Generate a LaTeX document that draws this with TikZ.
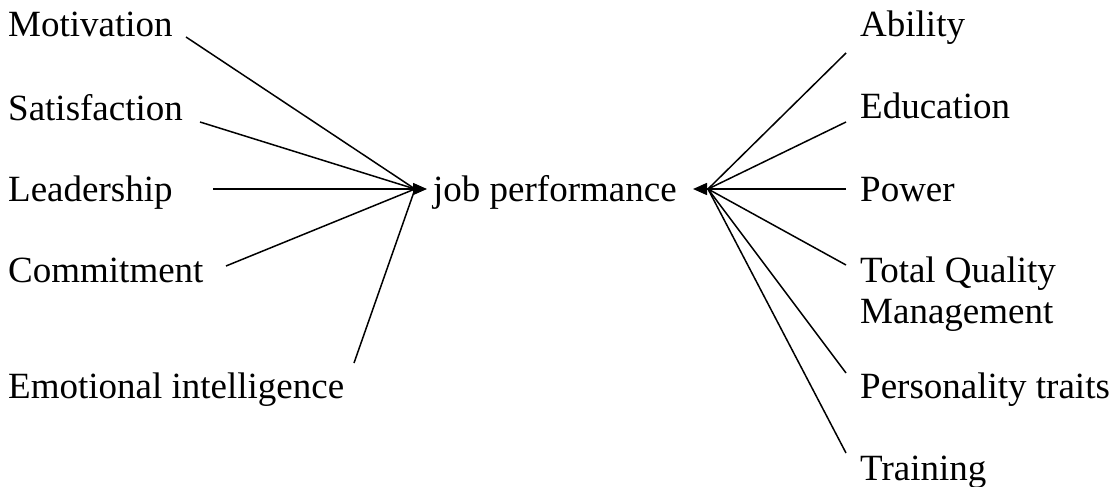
\documentclass[tikz,border=0pt]{standalone}
\usepackage{fontspec}
\setmainfont{Liberation Serif}
\usetikzlibrary{arrows.meta}
\begin{document}
\begin{tikzpicture}[x=1pt,y=-1pt,
  lbl/.style={inner sep=0pt, anchor=base west, font=\fontsize{37}{41}\selectfont},
  conn/.style={line width=1.5pt},
  arr/.style={conn,-{Triangle[length=14pt,width=12pt]}}]
\useasboundingbox (0,0) rectangle (1116,487);
% left labels
\node[lbl] (mot) at (8,37) {Motivation};
\node[lbl] (sat) at (8,120) {Satisfaction};
\node[lbl] (lead) at (8,201) {Leadership};
\node[lbl] (com) at (8,282) {Commitment};
\node[lbl] (emo) at (8,398) {Emotional intelligence};
% centre
\node[lbl] (jp) at (433,201) {job performance};
% right labels
\node[lbl] (abi) at (860,37) {Ability};
\node[lbl] (edu) at (860,118) {Education};
\node[lbl] (pow) at (860,201) {Power};
\node[lbl] (tqm) at (860,282) {Total Quality};
\node[lbl] (tqm2) at (860,323) {Management};
\node[lbl] (per) at (860,398) {Personality traits};
\node[lbl] (tra) at (860,480) {Training};
% connector end points
\coordinate (motS) at (186,37);
\coordinate (satS) at (200,122);
\coordinate (leadS) at (213,189);
\coordinate (comS) at (226,266);
\coordinate (emoS) at (354,363);
\coordinate (L) at (415,189);
\coordinate (Lt) at (427,189);
\coordinate (R) at (708,189);
\coordinate (Rt) at (693,189);
\coordinate (abiS) at (846,53);
\coordinate (eduS) at (846,122);
\coordinate (powS) at (846,189);
\coordinate (tqmS) at (846,265);
\coordinate (perS) at (846,373);
\coordinate (traS) at (846,453);
% left connectors
\draw[conn] (motS) -- (L);
\draw[conn] (satS) -- (L);
\draw[arr] (leadS) -- (Lt);
\draw[conn] (comS) -- (L);
\draw[conn] (emoS) -- (L);
% right connectors
\draw[conn] (abiS) -- (R);
\draw[conn] (eduS) -- (R);
\draw[arr] (powS) -- (Rt);
\draw[conn] (tqmS) -- (R);
\draw[conn] (perS) -- (R);
\draw[conn] (traS) -- (R);
\end{tikzpicture}
\end{document}
